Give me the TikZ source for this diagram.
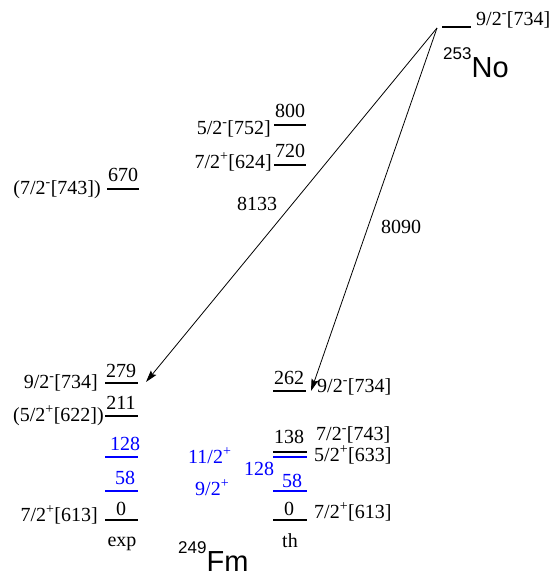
\documentclass[tikz,border=0pt]{standalone}
\usepackage{fontspec}
\setmainfont{Liberation Serif}
\newfontfamily\arialfont{Liberation Sans}
\usetikzlibrary{arrows.meta}
\definecolor{levelblue}{HTML}{0000FF}

\begin{document}
\begin{tikzpicture}[x=1pt,y=-1pt,
  level/.style={line width=2.4pt},
  lab/.style={font=\fontsize{20}{24}\selectfont,inner sep=0pt},
  nucl/.style={font=\arialfont\fontsize{29}{34}\selectfont,inner sep=0pt},
  decay/.style={line width=0.8pt,-{Stealth[length=12pt,width=7pt,inset=2pt]}}]
  \useasboundingbox (0,0) rectangle (555,576);
  % 253No ground state
  \draw[level] (442,27) -- (471,27);
  \coordinate (no) at (437,28);
  \node[lab,anchor=base west] (no-gs) at (476,25) {9/2\textsuperscript{-}[734]};
  \node[nucl,anchor=base west] (no-name) at (443,77)
    {\raisebox{18pt}{\fontsize{17}{20}\selectfont 253}No};
  % upper states
  \draw[level] (274,125) -- (306,125);
  \node[lab,anchor=base] (e800) at (290,117) {800};
  \node[lab,anchor=base east] (s800) at (271,134) {5/2\textsuperscript{-}[752]};
  \draw[level] (274,165) -- (306,165);
  \node[lab,anchor=base] (e720) at (290,157) {720};
  \node[lab,anchor=base east] (s720) at (272,168) {7/2\textsuperscript{+}[624]};
  \draw[level] (107,189) -- (139,189);
  \node[lab,anchor=base] (e670) at (123,181) {670};
  \node[lab,anchor=base east] (s670) at (101,194) {(7/2\textsuperscript{-}[743])};
  % alpha decays
  \coordinate (e279) at (146,382);
  \coordinate (t262) at (311,391);
  \draw[decay] (no) -- (e279);
  \draw[decay] (no) -- (t262);
  \node[lab,anchor=base] (q1) at (257,210) {8133};
  \node[lab,anchor=base west] (q2) at (381,233) {8090};
  % 249Fm experiment
  \draw[level] (105,383) -- (138,383);
  \node[lab,anchor=base] (x279) at (121,377) {279};
  \node[lab,anchor=base east] (xs279) at (98,388) {9/2\textsuperscript{-}[734]};
  \draw[level] (105,416) -- (138,416);
  \node[lab,anchor=base] (x211) at (121,409) {211};
  \node[lab,anchor=base east] (xs211) at (104,421) {(5/2\textsuperscript{+}[622])};
  \draw[level,levelblue] (105,457) -- (138,457);
  \node[lab,anchor=base,levelblue] (x128) at (125,450) {128};
  \draw[level,levelblue] (105,491) -- (138,491);
  \node[lab,anchor=base,levelblue] (x58) at (125,484) {58};
  \draw[level] (105,520) -- (138,520);
  \node[lab,anchor=base] (x0) at (121,515) {0};
  \node[lab,anchor=base east] (xs0) at (98,521) {7/2\textsuperscript{+}[613]};
  \node[lab,anchor=base] (exp) at (122,546) {exp};
  % 249Fm theory
  \draw[level] (273,391) -- (306,391);
  \node[lab,anchor=base] (t262lab) at (289,384) {262};
  \node[lab,anchor=base west] (ts262) at (317,392) {9/2\textsuperscript{-}[734]};
  \draw[level] (273,452) -- (307,452);
  \draw[level,levelblue] (273,457) -- (307,457);
  \node[lab,anchor=base] (t138) at (289,443) {138};
  \node[lab,anchor=base west] (ts138) at (316,440) {7/2\textsuperscript{-}[743]};
  \node[lab,anchor=base west] (ts128) at (314,461) {5/2\textsuperscript{+}[633]};
  \node[lab,anchor=base,levelblue] (t128) at (259,475) {128};
  \node[lab,anchor=base west,levelblue] (j11) at (188,463) {11/2\textsuperscript{+}};
  \node[lab,anchor=base west,levelblue] (j9) at (195,495) {9/2\textsuperscript{+}};
  \draw[level,levelblue] (273,491) -- (307,491);
  \node[lab,anchor=base,levelblue] (t58) at (292,487) {58};
  \draw[level] (273,520) -- (307,520);
  \node[lab,anchor=base] (t0) at (289,515) {0};
  \node[lab,anchor=base west] (ts0) at (314,518) {7/2\textsuperscript{+}[613]};
  \node[lab,anchor=base] (th) at (290,547) {th};
  \node[nucl,anchor=base west] (fm-name) at (178,571)
    {\raisebox{18pt}{\fontsize{17}{20}\selectfont 249}Fm};
\end{tikzpicture}
\end{document}
